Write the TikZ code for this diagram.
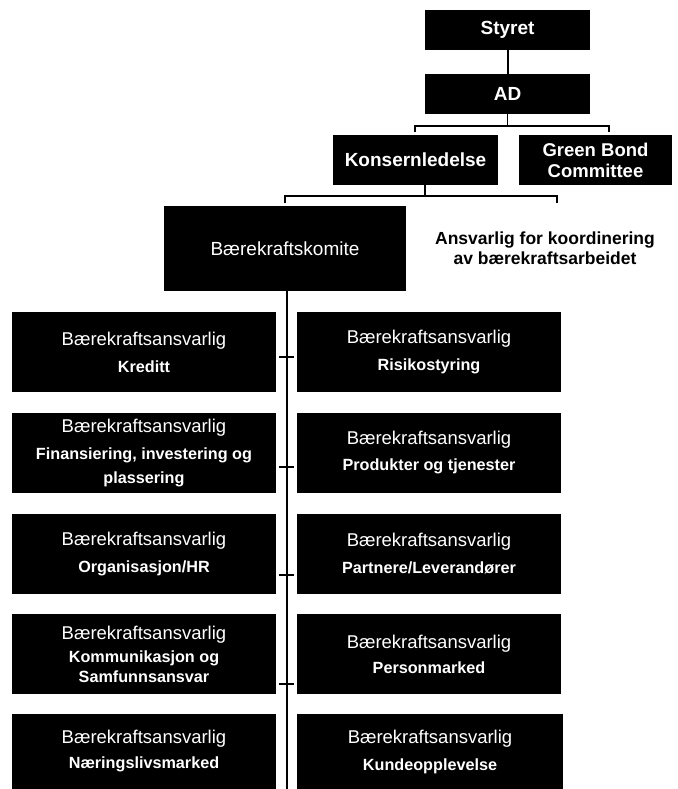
\documentclass[tikz,border=0pt]{standalone}
\usepackage{fontspec}
\setmainfont{Liberation Sans}
\begin{document}
\begin{tikzpicture}[x=1pt,y=-1pt,
  blk/.style={fill=black,text=white,inner sep=0pt,align=center},
  top/.style={blk,font=\bfseries\fontsize{19}{22}\selectfont},
  unit/.style={blk,minimum width=264pt,minimum height=80pt,font=\fontsize{18.5}{27}\selectfont},
  conn/.style={line width=1.6pt},
  trunk/.style={line width=2.6pt}]
\useasboundingbox (0,0) rectangle (677,789);
\newcommand\bsa{Bærekraftsansvarlig}
\newcommand\bft[1]{{\bfseries\fontsize{16.2}{24}\selectfont #1}}

\node[top,minimum width=165pt,minimum height=40pt] (styret) at (507.5,30) {Styret};
\node[top,minimum width=165pt,minimum height=40pt] (ad) at (507.5,94) {AD};
\node[top,minimum width=165pt,minimum height=50pt] (kons) at (415.5,160) {Konsernledelse};
\node[top,minimum width=153pt,minimum height=50pt,font=\bfseries\fontsize{18.5}{21}\selectfont] (gbc) at (595.5,160) {Green Bond\\Committee};
\node[blk,minimum width=242pt,minimum height=85pt,font=\fontsize{19}{22}\selectfont] (komite) at (285,248.5) {Bærekraftskomite};
\node[inner sep=0pt,minimum width=234pt,minimum height=85pt,align=center,font=\bfseries\fontsize{17.5}{20}\selectfont] (ansv) at (545,248.5) {Ansvarlig for koordinering\\av bærekraftsarbeidet};

% rows
\node[unit] (l1) at (144,352) {\bsa\\\bft{Kreditt}};
\node[unit] (r1) at (429,352) {\bsa\\\bft{Risikostyring}};
\node[unit] (l2) at (144,453) {\bsa\\\bft{Finansiering, investering og}\\[-3pt]\bft{plassering}};
\node[unit,font=\fontsize{18.5}{26}\selectfont] (r2) at (429,453) {\bsa\\\bft{Produkter og tjenester}};
\node[unit] (l3) at (144,554) {\bsa\\\bft{Organisasjon/HR}};
\node[unit] (r3) at (429,554) {\bsa\\\bft{Partnere/Leverandører}};
\node[unit,font=\fontsize{18.5}{23}\selectfont] (l4) at (144,654) {\bsa\\\bft{Kommunikasjon og}\\[-3pt]\bft{Samfunnsansvar}};
\node[unit,font=\fontsize{18.5}{25}\selectfont] (r4) at (429,654) {\bsa\\\bft{Personmarked}};
\node[unit,minimum height=75pt,font=\fontsize{18.5}{25}\selectfont] (l5) at (144,751.5) {\bsa\\\bft{Næringslivsmarked}};
\node[unit,minimum width=266pt,minimum height=75pt,font=\fontsize{18.5}{31}\selectfont] (r5) at (430,751.5) {\bsa\\[-4pt]\bft{Kundeopplevelse}};

% connectors
\draw[line width=2pt] (styret) -- (ad);
\coordinate (b1) at (507.5,126);
\coordinate (b1l) at (415,132);
\coordinate (b1r) at (609,132);
\draw[conn] (ad.south) -- (b1);
\draw[conn] (b1l) -- (b1l |- b1) -- (b1r |- b1) -- (b1r);

\coordinate (b2) at (425,196);
\coordinate (b2l) at (285,203);
\coordinate (b2r) at (557,203);
\draw[conn] (kons.south -| b2) -- (b2);
\draw[conn] (b2l) -- (b2l |- b2) -- (b2r |- b2) -- (b2r);

\coordinate (bot) at (287,789);
\draw[trunk] (komite.south -| bot) -- (bot);
\foreach \n/\y in {1/357,2/467,3/575,4/684}{
  \coordinate (tk\n) at (287,\y);
  \draw[line width=1.4pt] ([xshift=-8pt]tk\n) -- ([xshift=7pt]tk\n);
}
\end{tikzpicture}
\end{document}
